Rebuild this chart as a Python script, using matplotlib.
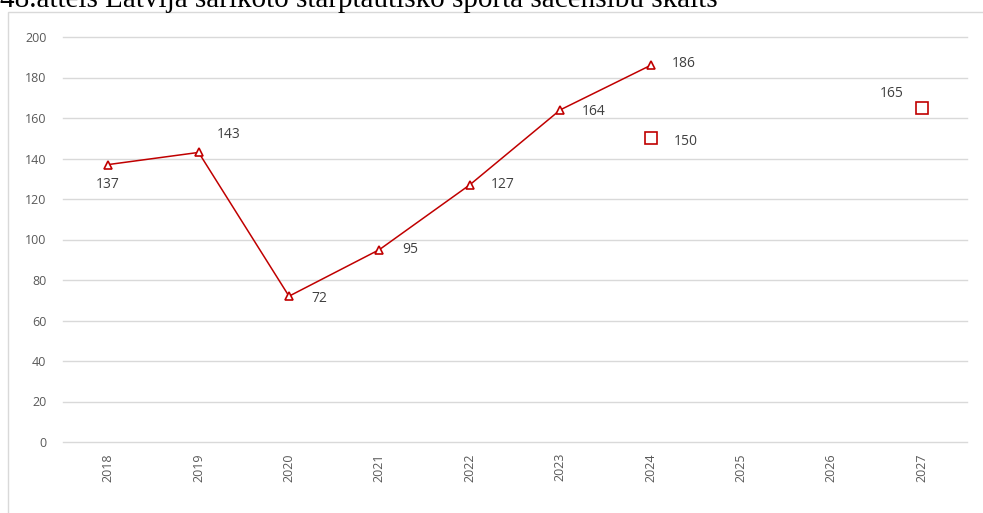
import matplotlib.pyplot as plt
from matplotlib.patches import Rectangle

years = ["2018", "2019", "2020", "2021", "2022", "2023", "2024", "2025", "2026", "2027"]
actual = [137, 143, 72, 95, 127, 164, 186]
target_idx = [6, 9]
target = [150, 165]

red = "#C00000"
grey_text = "#595959"
label_text = "#404040"
grid_col = "#D9D9D9"

fig = plt.figure(figsize=(9.83, 5.13), dpi=100)
W, H = 983, 513

# outer chart frame
fig.patches.append(Rectangle((8 / W, -0.01), 1.0, 1 - 12 / H + 0.01,
                             transform=fig.transFigure, fill=False,
                             edgecolor=grid_col, lw=1))

fig.text(0, 1 - 7 / H,
         "48.attēls Latvijā sarīkoto starptautisko sporta sacensību skaits",
         family="Liberation Serif", fontsize=21, va="baseline", ha="left")

ax = fig.add_axes([63 / W, 1 - 442 / H, (967 - 63) / W, (442 - 37) / H])
ax.set_xlim(-0.5, len(years) - 0.5)
ax.set_ylim(0, 200)
for s in ax.spines.values():
    s.set_visible(False)
for v in range(0, 201, 20):
    ax.axhline(v, color=grid_col, lw=1, zorder=0, clip_on=False)

ax.plot(range(len(actual)), actual, color=red, lw=1.1, marker="^",
        markersize=6, markerfacecolor="white", markeredgecolor=red,
        markeredgewidth=1.2, zorder=3)
ax.plot(target_idx, target, ls="none", marker="s", markersize=9,
        markerfacecolor="white", markeredgecolor=red, markeredgewidth=1.2,
        zorder=3)

# data labels, offsets in points
label_off = [(0, -14), (22, 13), (22, -2), (22, 0), (24, 0), (24, -1), (24, 1)]
for i, (v, off) in enumerate(zip(actual, label_off)):
    ax.annotate(str(v), (i, v), xytext=off, textcoords="offset points",
                ha="center", va="center", fontsize=10, color=label_text,
                family="Open Sans")
for i, v, off in zip(target_idx, target, [(25, -2), (-22, 10)]):
    ax.annotate(str(v), (i, v), xytext=off, textcoords="offset points",
                ha="center", va="center", fontsize=10, color=label_text,
                family="Open Sans")

ax.set_xticks(range(len(years)))
ax.set_xticklabels(years, rotation=90, fontsize=9, color=grey_text,
                   family="Open Sans")
ax.set_yticks(range(0, 201, 20))
ax.set_yticklabels([str(v) for v in range(0, 201, 20)], fontsize=9,
                   color=grey_text, family="Open Sans")
ax.tick_params(length=0, pad=12)
ax.tick_params(axis="x", pad=8)

fig.savefig("out.png", dpi=100)
